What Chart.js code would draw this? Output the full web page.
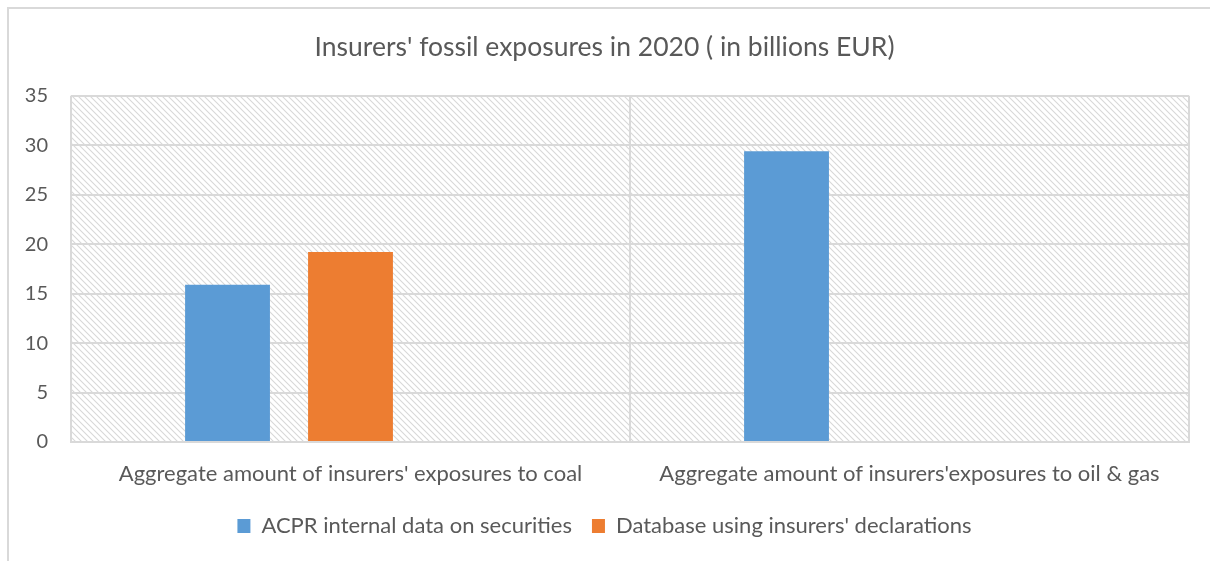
<!DOCTYPE html>
<html>
<head>
<meta charset="utf-8">
<script src="https://cdn.jsdelivr.net/npm/chart.js@4.4.1/dist/chart.umd.min.js"></script>
<style>
  html, body { margin: 0; padding: 0; background: #fff; }
  #wrap { position: relative; width: 1210px; height: 561px; }
  #frame { position: absolute; left: 7px; top: 7px; right: 0; bottom: 0;
           border-left: 2px solid #d9d9d9; border-top: 2px solid #d9d9d9; }
  canvas { position: absolute; left: 0; top: 0; }
</style>
</head>
<body>
<div id="wrap">
  <div id="frame"></div>
  <canvas id="plot" width="1210" height="561"></canvas>
</div>
<script>
// data
const categories = [
  "Aggregate amount of insurers' exposures to coal",
  "Aggregate amount of insurers'exposures to oil & gas"
]
const acprSecurities = [15.9, 29.4]
const insurerDeclarations = [19.2, null]
const unusedSeries = [null, null]   // third slot kept empty, not in legend
const yTicks = [0, 5, 10, 15, 20, 25, 30, 35]

const textGrey = '#595959'
const gridGrey = '#d9d9d9'
const fontFamily = 'Lato, "Open Sans", sans-serif'

// diagonal hatch used behind the bars
function makeHatch() {
  const c = document.createElement('canvas')
  c.width = 6
  c.height = 6
  const g = c.getContext('2d')
  g.fillStyle = '#ffffff'
  g.fillRect(0, 0, 6, 6)
  g.strokeStyle = '#d8d8d8'
  g.lineWidth = 1.1
  g.beginPath()
  g.moveTo(-1, -1); g.lineTo(7, 7)
  g.moveTo(-1, 5); g.lineTo(1, 7)
  g.moveTo(5, -1); g.lineTo(7, 1)
  g.stroke()
  return g.createPattern(c, 'repeat')
}

const hatchBackground = {
  id: 'hatchBackground',
  beforeDraw(chart) {
    const { ctx, chartArea: a } = chart
    ctx.save()
    ctx.fillStyle = makeHatch()
    ctx.fillRect(a.left, a.top, a.right - a.left, a.bottom - a.top)
    ctx.restore()
  }
}

const chart = new Chart(
  document.getElementById('plot'),
  {
    type: 'bar',
    data: {
      labels: categories,
      datasets: [
        { label: 'ACPR internal data on securities', data: acprSecurities,
          backgroundColor: '#5b9bd5' },
        { label: "Database using insurers' declarations", data: insurerDeclarations,
          backgroundColor: '#ed7d31' },
        { label: '', data: unusedSeries, backgroundColor: '#a5a5a5' }
      ]
    },
    options: {
      responsive: false,
      animation: false,
      events: [],
      layout: { padding: { left: 20, right: 21, top: 0, bottom: 14 } },
      datasets: {
        bar: { barPercentage: 0.69, categoryPercentage: 0.66 }
      },
      plugins: {
        title: {
          display: true,
          text: "Insurers' fossil exposures in 2020 ( in billions EUR)",
          color: textGrey,
          font: { family: fontFamily, size: 26.5, weight: 'normal' },
          padding: { top: 32, bottom: 32 }
        },
        legend: {
          position: 'bottom',
          labels: {
            color: textGrey,
            font: { family: fontFamily, size: 22 },
            boxWidth: 13,
            boxHeight: 14,
            padding: 20,
            filter: item => item.text !== ''
          }
        },
        tooltip: { enabled: false }
      },
      scales: {
        x: {
          afterFit: scale => { scale.height = 53 },
          grid: { color: gridGrey, lineWidth: 2, offset: true, drawTicks: false },
          border: { color: gridGrey, width: 2 },
          ticks: {
            color: textGrey,
            font: { family: fontFamily, size: 22 },
            padding: 19,
            maxRotation: 0
          }
        },
        y: {
          min: 0,
          max: 35,
          afterBuildTicks: scale => { scale.ticks = yTicks.map(v => ({ value: v })) },
          afterFit: scale => { scale.width = 51 },
          grid: { color: gridGrey, lineWidth: 2, drawTicks: false },
          border: { display: false },
          ticks: {
            color: textGrey,
            font: { family: fontFamily, size: 20 },
            padding: 23
          }
        }
      }
    },
    plugins: [hatchBackground]
  }
)
</script>
</body>
</html>
